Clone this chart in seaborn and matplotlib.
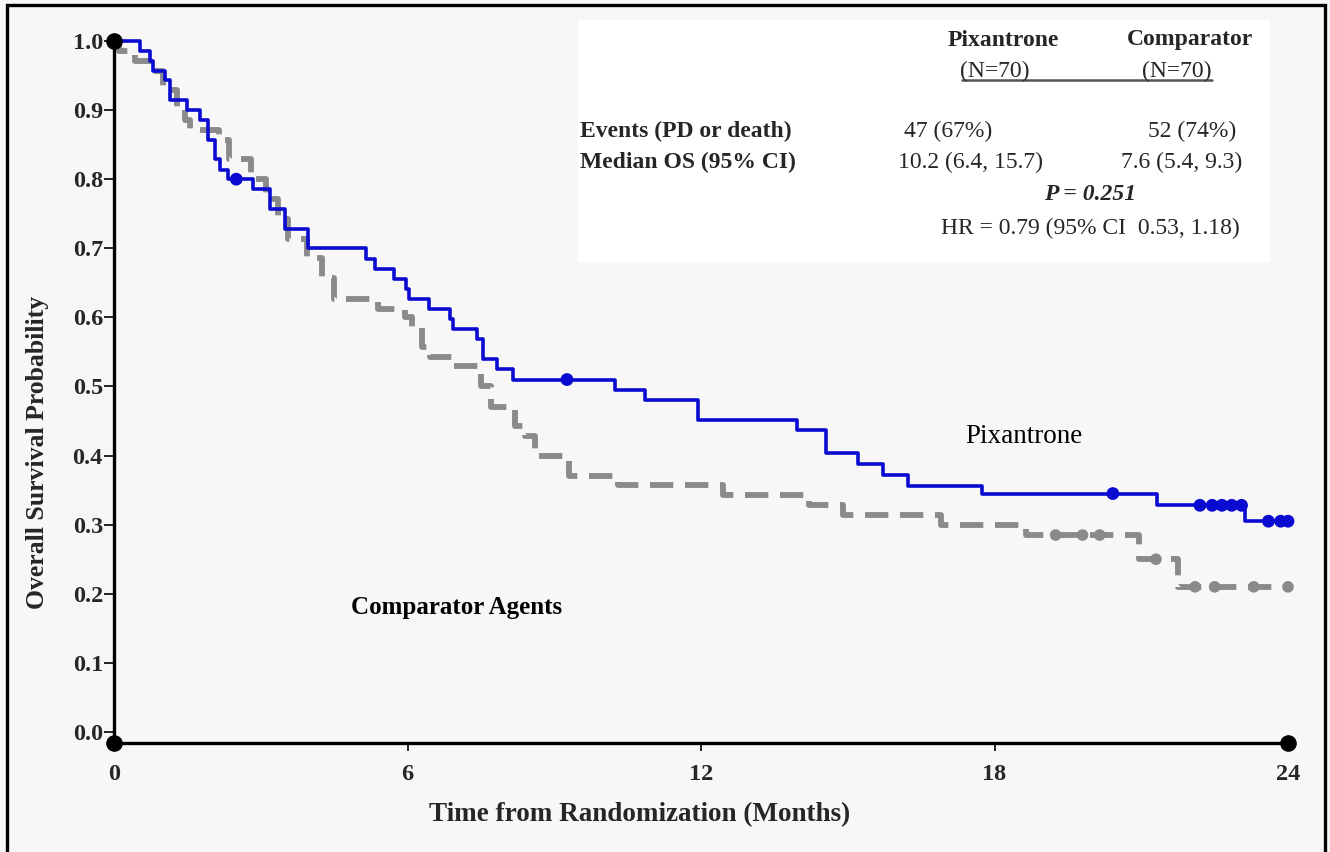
import numpy as np
import pandas as pd
import matplotlib
matplotlib.use("Agg")
import matplotlib.pyplot as plt
import seaborn as sns
from matplotlib.patches import Rectangle
from matplotlib.lines import Line2D

# Kaplan-Meier step points (months, survival after the step)
pix_time = [0.0, 0.53, 0.74, 0.80, 1.05, 1.15, 1.49, 1.76, 1.92, 2.06,
            2.17, 2.33, 2.84, 3.19, 3.50, 3.97, 5.15, 5.34, 5.72, 5.97,
            6.03, 6.44, 6.87, 6.93, 7.42, 7.54, 7.83, 8.16, 10.24, 10.85,
            11.94, 13.96, 14.55, 15.20, 15.72, 16.23, 17.74, 21.32, 23.12, 24.0]
pix_surv = [1.0, 0.986, 0.971, 0.957, 0.943, 0.914, 0.900, 0.886, 0.857, 0.829,
            0.814, 0.800, 0.786, 0.757, 0.728, 0.700, 0.685, 0.670, 0.655, 0.641,
            0.627, 0.612, 0.598, 0.583, 0.568, 0.540, 0.525, 0.510, 0.495, 0.481,
            0.452, 0.437, 0.404, 0.388, 0.372, 0.356, 0.345, 0.328, 0.305, 0.305]
pix_censored = [2.50, 9.26, 20.42, 22.20, 22.45, 22.65, 22.85, 23.05, 23.60, 23.85, 24.0]

cmp_time = [0.0, 0.10, 0.43, 0.80, 1.00, 1.28, 1.45, 1.55, 2.15, 2.35,
            2.80, 3.10, 3.35, 3.55, 3.95, 4.25, 4.50, 5.40, 5.95, 6.10,
            6.30, 6.45, 6.90, 7.50, 7.70, 8.20, 8.40, 8.60, 9.30, 10.30,
            12.45, 14.20, 14.90, 16.90, 18.65, 20.95, 21.75, 24.0]
cmp_surv = [1.0, 0.986, 0.971, 0.957, 0.929, 0.900, 0.886, 0.871, 0.857, 0.829,
            0.800, 0.771, 0.743, 0.714, 0.686, 0.657, 0.627, 0.612, 0.600, 0.586,
            0.557, 0.543, 0.529, 0.500, 0.471, 0.443, 0.429, 0.400, 0.371, 0.357,
            0.343, 0.329, 0.314, 0.300, 0.285, 0.250, 0.210, 0.210]
cmp_censored = [19.25, 19.80, 20.15, 21.30, 22.10, 22.50, 23.30, 24.0]

x_ticks = [0, 6, 12, 18, 24]
y_ticks = [0.0, 0.1, 0.2, 0.3, 0.4, 0.5, 0.6, 0.7, 0.8, 0.9, 1.0]

table_groups = ["Pixantrone", "Comparator"]
table_n = ["(N=70)", "(N=70)"]
table_rows = ["Events (PD or death)", "Median OS (95% CI)"]
table_pix = ["47 (67%)", "10.2 (6.4, 15.7)"]
table_cmp = ["52 (74%)", "7.6 (5.4, 9.3)"]
p_text = "P = 0.251"
hr_text = "HR = 0.79 (95% CI  0.53, 1.18)"

BLUE = "#0a0ad0"
GREY = "#8a8a8a"
BG = "#f7f7f7"


def step_value(times, surv, t):
    idx = np.searchsorted(times, t, side="right") - 1
    return np.asarray(surv)[idx]


pix_df = pd.DataFrame({"time": pix_time, "surv": pix_surv})
cmp_df = pd.DataFrame({"time": cmp_time, "surv": cmp_surv})
pix_c = pd.DataFrame({"time": pix_censored,
                      "surv": step_value(pix_time, pix_surv, pix_censored)})
cmp_c = pd.DataFrame({"time": cmp_censored,
                      "surv": step_value(cmp_time, cmp_surv, cmp_censored)})

sns.set_theme(style="white")
plt.rcParams["font.family"] = ["Liberation Serif", "DejaVu Serif"]

W, H = 1330, 852
fig = plt.figure(figsize=(W / 100, H / 100), dpi=100, facecolor=BG)


def fx(px):
    return px / W


def fy(py):
    return 1 - py / H


ax_left, ax_right, ax_top, ax_bottom = 114, 1288, 41, 743
ax = fig.add_axes([fx(ax_left), fy(ax_bottom), fx(ax_right - ax_left),
                   (ax_bottom - ax_top) / H])
ax.set_facecolor("none")

# summary box
fig.add_artist(Rectangle((fx(578), fy(262)), fx(1270 - 578), (262 - 20) / H,
                         transform=fig.transFigure, facecolor="white",
                         edgecolor="none", zorder=-1))

sns.lineplot(data=cmp_df, x="time", y="surv", ax=ax, drawstyle="steps-post",
             color=GREY, linewidth=4.2, estimator=None, dashes=False,
             zorder=2, clip_on=False)
ax.lines[-1].set_dashes((4.0, 2.0))
ax.lines[-1].set_solid_capstyle("butt")
sns.scatterplot(data=cmp_c, x="time", y="surv", ax=ax, color=GREY, s=70,
                edgecolor="none", zorder=3, clip_on=False)

sns.lineplot(data=pix_df, x="time", y="surv", ax=ax, drawstyle="steps-post",
             color=BLUE, linewidth=2.6, estimator=None, zorder=4, clip_on=False)
sns.scatterplot(data=pix_c, x="time", y="surv", ax=ax, color=BLUE, s=85,
                edgecolor="none", zorder=5, clip_on=False)

ax.set_xlim(0, 24)
ax.set_ylim(-0.016, 1.0)

# black end markers on the axes
x0, x1 = ax.get_xlim()
y0, y1 = ax.get_ylim()
ax.scatter([x0, x0, x1], [y1, y0, y0], s=120, color="black", zorder=6,
           clip_on=False)

for side in ["top", "right"]:
    ax.spines[side].set_visible(False)
for side in ["left", "bottom"]:
    ax.spines[side].set_color("black")
    ax.spines[side].set_linewidth(2.4)

ax.set_yticks(y_ticks)
ax.set_yticklabels([f"{v:.1f}" for v in y_ticks], fontweight="bold",
                   fontsize=17.5)
ax.set_xticks(x_ticks)
ax.set_xticklabels([str(v) for v in x_ticks], fontweight="bold", fontsize=17.5)
ax.tick_params(axis="y", direction="out", length=7, width=1.2, pad=1,
               left=True, color="black")
ax.tick_params(axis="x", direction="out", length=6, width=1.2, pad=9,
               bottom=True, color="black")
ax.grid(False)

ax.set_xlabel("Time from Randomization (Months)", fontsize=19.5,
              fontweight="bold")
ax.xaxis.set_label_coords((640 - ax_left) / (ax_right - ax_left),
                          -(815 - ax_bottom) / (ax_bottom - ax_top))
ax.xaxis.label.set_va("center")
ax.set_ylabel("Overall Survival Probability", fontsize=18.5, fontweight="bold")
ax.yaxis.set_label_coords(-(ax_left - 38) / (ax_right - ax_left),
                          (ax_bottom - 452) / (ax_bottom - ax_top))
ax.yaxis.label.set_va("center")

# curve labels
ax.text(18.6, 0.427, "Pixantrone", fontsize=19.5, ha="center", va="center",
        color="black")
ax.text(7.0, 0.18, "Comparator Agents", fontsize=18, fontweight="bold",
        ha="center", va="center", color="black")

# summary table
fs = 17
fig.text(fx(1003), fy(40), table_groups[0], fontsize=fs, fontweight="bold",
         ha="center", va="center")
fig.text(fx(1190), fy(40), table_groups[1], fontsize=fs, fontweight="bold",
         ha="center", va="center")
fig.text(fx(995), fy(71), table_n[0], fontsize=fs, ha="center", va="center")
fig.text(fx(1177), fy(71), table_n[1], fontsize=fs, ha="center", va="center")
fig.add_artist(Line2D([fx(962), fx(1212)], [fy(80), fy(80)],
                      transform=fig.transFigure, color="#555555", lw=1.8))
for i, py in enumerate([131, 162]):
    fig.text(fx(580), fy(py), table_rows[i], fontsize=fs, fontweight="bold",
             ha="left", va="center")
fig.text(fx(948), fy(131), table_pix[0], fontsize=fs, ha="center", va="center")
fig.text(fx(1192), fy(131), table_cmp[0], fontsize=fs, ha="center", va="center")
fig.text(fx(970), fy(162), table_pix[1], fontsize=fs, ha="center", va="center")
fig.text(fx(1182), fy(162), table_cmp[1], fontsize=fs, ha="center", va="center")
fig.text(fx(1090), fy(194), p_text, fontsize=fs, fontweight="bold",
         fontstyle="italic", ha="center", va="center")
fig.text(fx(1090), fy(228), hr_text, fontsize=fs, ha="center", va="center")

# outer frame
fig.add_artist(Rectangle((fx(7), fy(870)), fx(1325 - 7), (870 - 5) / H,
                         transform=fig.transFigure, facecolor="none",
                         edgecolor="black", lw=2.4, clip_on=False, zorder=10))

fig.savefig("out.png", dpi=100, facecolor=BG)
